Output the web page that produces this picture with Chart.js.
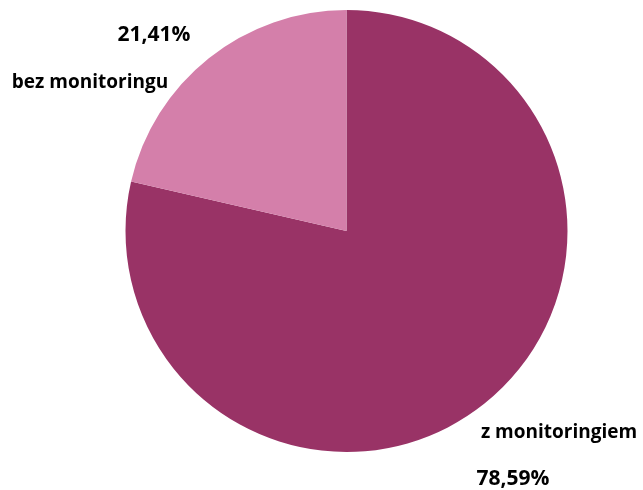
<!DOCTYPE html>
<html>
<head>
<meta charset="utf-8">
<script src="https://cdn.jsdelivr.net/npm/chart.js@4"></script>
<style>
  html, body { margin: 0; padding: 0; background: #fff; }
  #wrap { width: 643px; height: 490px; }
</style>
</head>
<body>
<div id="wrap"><canvas id="myChart" width="643" height="490"></canvas></div>
<script>
const ctx = document.getElementById("myChart").getContext("2d");

let labels = ['z monitoringiem', 'bez monitoringu'];
let values = [78.59, 21.41];
let valueLabels = ['78,59%', '21,41%'];
let colors = ['#993366', '#D47FAA'];

// label positions: [name x, name y, value x, value y]
const labelPos = [
   [559, 433, 513, 479],
   [90, 83, 154, 35]
];

const outsideLabels = {
   id: 'outsideLabels',
   afterDraw(chart) {
      const c = chart.ctx;
      c.save();
      c.fillStyle = '#000';
      c.textAlign = 'center';
      c.textBaseline = 'middle';
      labels.forEach((l, i) => {
         const p = labelPos[i];
         c.font = 'bold 19px "Open Sans"';
         c.fillText(l, p[0], p[1]);
         c.font = 'bold 21px "Open Sans"';
         c.fillText(valueLabels[i], p[2], p[3]);
      });
      c.restore();
   }
};

const data = {
   labels,
   datasets: [
      {
         data: values,
         backgroundColor: colors,
         borderWidth: 0,
      }
   ]
}

const config = {
   type: 'pie',
   data: data,
   options: {
      responsive: false,
      animation: false,
      layout: {
         padding: { left: 125.5, right: 75.5, top: 10, bottom: 38 }
      },
      plugins: {
         legend: { display: false },
         tooltip: { enabled: false }
      }
   },
   plugins: [outsideLabels]
}

const myChart = new Chart(ctx, config);
</script>
</body>
</html>
